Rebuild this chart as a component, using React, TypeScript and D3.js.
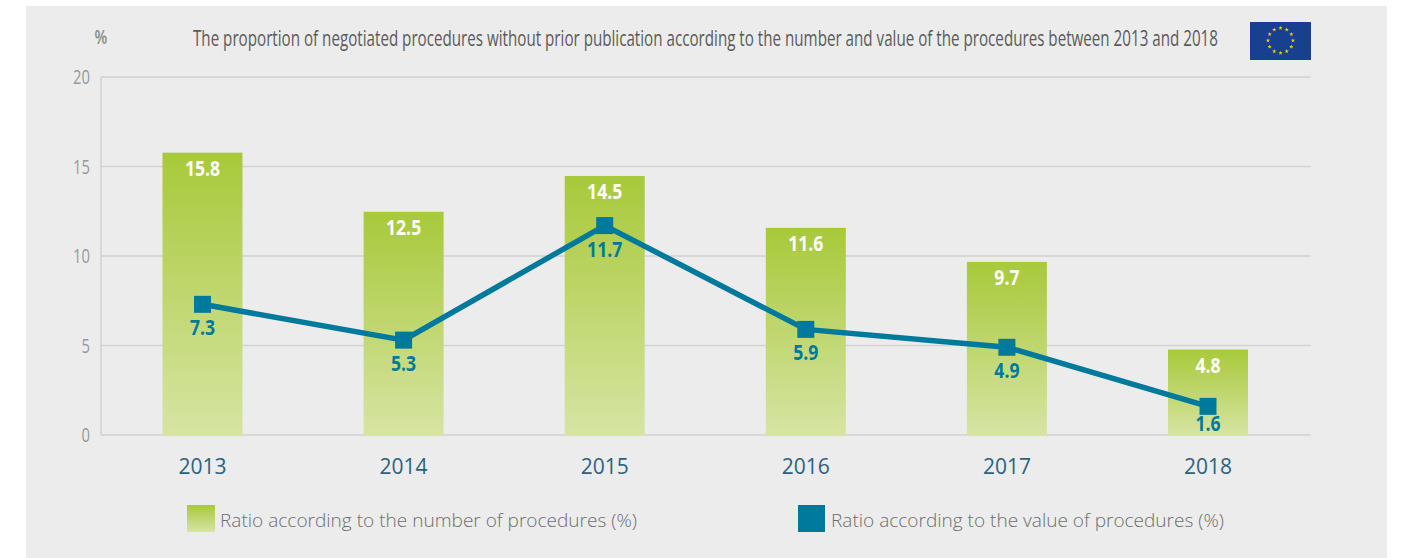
import React from "react";
import * as d3 from "d3";

const years = ["2013", "2014", "2015", "2016", "2017", "2018"];
const numberRatio = [15.8, 12.5, 14.5, 11.6, 9.7, 4.8];
const valueRatio = [7.3, 5.3, 11.7, 5.9, 4.9, 1.6];
const yTicks = [0, 5, 10, 15, 20];
const title = "The proportion of negotiated procedures without prior publication according to the number and value of the procedures between 2013 and 2018";
const legendBar = "Ratio according to the number of procedures (%)";
const legendLine = "Ratio according to the value of procedures (%)";

const OPEN = "'Open Sans', sans-serif";
const BLUE = "#007a9c";

function Narrow(props: {
  x: number;
  y: number;
  anchor?: string;
  size: number;
  weight?: number;
  fill: string;
  sx?: number;
  children: React.ReactNode;
}) {
  const { x, y, anchor = "middle", size, weight = 400, fill, sx = 0.74, children } = props;
  return (
    <text
      transform={`translate(${x},${y}) scale(${sx},1)`}
      textAnchor={anchor}
      fontFamily={OPEN}
      fontSize={size}
      fontWeight={weight}
      fill={fill}
    >
      {children}
    </text>
  );
}

export default function App() {
  const x = d3.scalePoint<string>().domain(years).range([202.5, 1208]);
  const y = d3.scaleLinear().domain([0, 20]).range([435, 77]);
  const barW = 80;
  const line = d3
    .line<number>()
    .x((_, i) => x(years[i])!)
    .y((d) => y(d));
  const valueLabelY = (v: number) => Math.min(y(v) + 31, 431);

  const stars = d3.range(12).map((i) => {
    const a = (i * Math.PI) / 6;
    return { cx: 1280.5 + 12.5 * Math.sin(a), cy: 40.5 - 12.5 * Math.cos(a) };
  });

  return (
    <svg
      width={1401}
      height={558}
      style={{ position: "absolute", left: 0, top: 0, display: "block" }}
    >
      <defs>
        <linearGradient id="barGrad" x1="0" y1="0" x2="0" y2="1">
          <stop offset="0%" stopColor="#a8c93a" />
          <stop offset="100%" stopColor="#d7e4a4" />
        </linearGradient>
      </defs>
      <rect x={0} y={0} width={1401} height={558} fill="#fff" />
      <rect x={26} y={6} width={1361} height={552} fill="#ececec" />

      <Narrow x={101} y={44} size={20} weight={600} fill="#8a8a8a">%</Narrow>
      <Narrow x={193} y={46} anchor="start" size={21} sx={0.7228} fill="#5a5a5a">
        {title}
      </Narrow>

      <rect x={1250} y={22} width={61} height={38} fill="#17408f" />
      {stars.map((s, i) => (
        <path
          key={i}
          transform={`translate(${s.cx},${s.cy})`}
          d={d3.symbol(d3.symbolStar, 6)()!}
          fill="#f2c814"
        />
      ))}

      {yTicks.map((t) => (
        <g key={t}>
          <line x1={101} x2={1311} y1={y(t)} y2={y(t)} stroke="#d2d2d2" strokeWidth={1.5} />
          <Narrow x={90} y={y(t) + 7} anchor="end" size={20} fill="#999">
            {t}
          </Narrow>
        </g>
      ))}
      <line x1={101} x2={101} y1={y(20)} y2={y(0)} stroke="#d2d2d2" strokeWidth={1.5} />

      {years.map((yr, i) => (
        <g key={yr}>
          <rect
            x={x(yr)! - barW / 2}
            y={y(numberRatio[i]) + 0.5}
            width={barW}
            height={y(0) - y(numberRatio[i]) + 0.5}
            fill="url(#barGrad)"
          />
          <Narrow x={x(yr)!} y={y(numberRatio[i]) + 24} size={22} sx={0.8} weight={700} fill="#fff">
            {numberRatio[i].toFixed(1)}
          </Narrow>
          <text
            x={x(yr)!}
            y={474}
            textAnchor="middle"
            fontFamily={OPEN}
            fontSize={21}
            fill="#2b6282"
          >
            {yr}
          </text>
        </g>
      ))}

      <path d={line(valueRatio)!} fill="none" stroke={BLUE} strokeWidth={5.5} />
      {years.map((yr, i) => (
        <g key={yr}>
          <rect
            x={x(yr)! - 8.5}
            y={y(valueRatio[i]) - 8.5}
            width={17}
            height={17}
            fill={BLUE}
          />
          <Narrow x={x(yr)!} y={valueLabelY(valueRatio[i])} size={22} sx={0.8} weight={700} fill={BLUE}>
            {valueRatio[i].toFixed(1)}
          </Narrow>
        </g>
      ))}

      <rect x={187} y={505} width={28} height={27} fill="url(#barGrad)" />
      <text x={220} y={527} fontFamily={OPEN} fontSize={19} fontWeight={300} fill="#6e6e6e" textLength={417} lengthAdjust="spacingAndGlyphs">
        {legendBar}
      </text>
      <rect x={798} y={505} width={27} height={27} fill={BLUE} />
      <text x={831} y={527} fontFamily={OPEN} fontSize={19} fontWeight={300} fill="#6e6e6e" textLength={393} lengthAdjust="spacingAndGlyphs">
        {legendLine}
      </text>
    </svg>
  );
}
